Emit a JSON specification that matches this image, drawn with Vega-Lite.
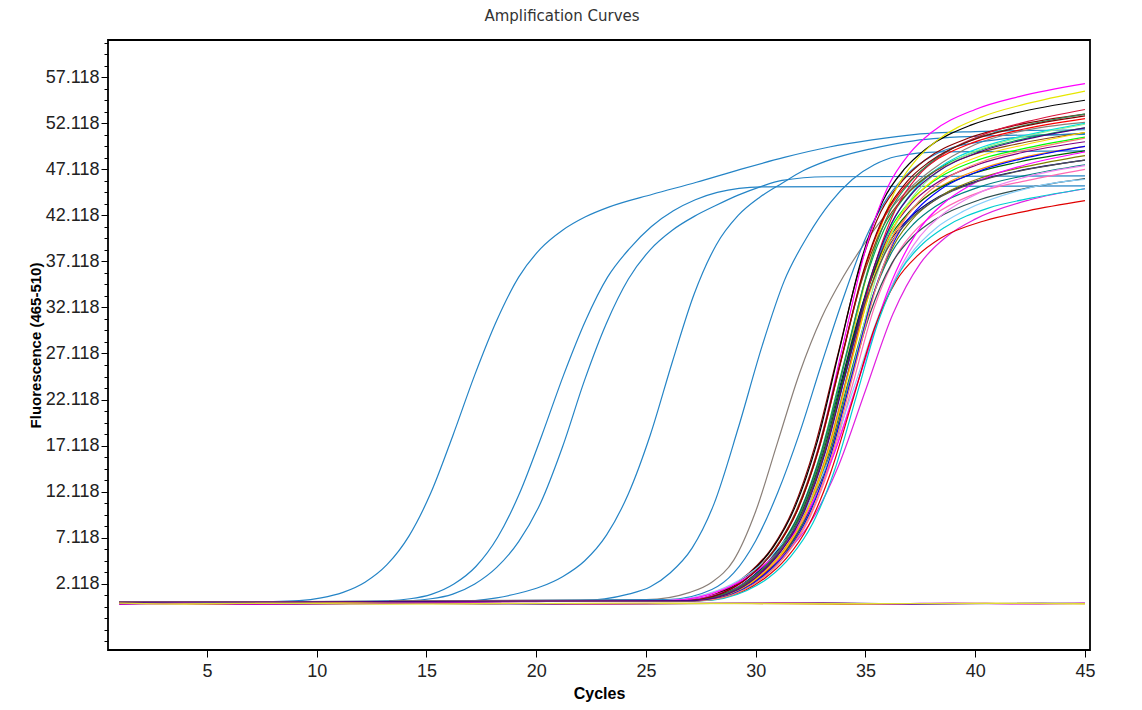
{
"$schema":"https://vega.github.io/schema/vega-lite/v6.json",
"width":982,"height":610,
"autosize":{"type":"none"},
"padding":{"left":108,"top":40,"right":52,"bottom":60},
"background":"white",
"title":{"text":"Amplification Curves","fontSize":15,"font":"DejaVu Sans","fontWeight":"normal","color":"#333333","anchor":"middle","dx":-37,"offset":16},
"config":{"view":{"stroke":"#000000","strokeWidth":1.8},"axis":{"grid":false,"domain":false,"tickColor":"#000000","tickSize":7,"labelFont":"Liberation Sans","labelFontSize":18,"labelColor":"#222222","titleFont":"Liberation Sans","titleFontWeight":"bold","titleColor":"#000000"}},
"data":{"values":[
{"s":"b1","x":1,"y":0.1},{"s":"b1","x":8,"y":0.2},{"s":"b1","x":9.2,"y":0.3},{"s":"b1","x":10.2,"y":0.6},{"s":"b1","x":11.2,"y":1.2},{"s":"b1","x":12.2,"y":2.3},{"s":"b1","x":13.2,"y":4.2},{"s":"b1","x":14.2,"y":7.3},{"s":"b1","x":15.2,"y":12.0},{"s":"b1","x":16.2,"y":18.2},{"s":"b1","x":17.2,"y":24.8},{"s":"b1","x":18.2,"y":30.7},{"s":"b1","x":19.2,"y":35.4},{"s":"b1","x":20.2,"y":38.5},{"s":"b1","x":21.2,"y":40.5},{"s":"b1","x":22.2,"y":41.9},{"s":"b1","x":23.3,"y":43.0},{"s":"b1","x":25.3,"y":44.4},{"s":"b1","x":27.3,"y":45.7},{"s":"b1","x":29.3,"y":47.1},{"s":"b1","x":31.3,"y":48.4},{"s":"b1","x":33.3,"y":49.5},{"s":"b1","x":35.3,"y":50.3},{"s":"b1","x":37.3,"y":50.9},{"s":"b1","x":40,"y":51.2},{"s":"b1","x":45,"y":51.4},
{"s":"b2","x":1,"y":0.1},{"s":"b2","x":12.25,"y":0.2},{"s":"b2","x":14.25,"y":0.5},{"s":"b2","x":15.25,"y":1.0},{"s":"b2","x":16.25,"y":2.1},{"s":"b2","x":17.25,"y":4.0},{"s":"b2","x":18.25,"y":7.2},{"s":"b2","x":19.25,"y":12.0},{"s":"b2","x":20.25,"y":18.2},{"s":"b2","x":21.25,"y":24.8},{"s":"b2","x":22.25,"y":30.7},{"s":"b2","x":23.25,"y":35.4},{"s":"b2","x":24.25,"y":38.5},{"s":"b2","x":25.25,"y":40.9},{"s":"b2","x":26.25,"y":42.6},{"s":"b2","x":27.25,"y":43.8},{"s":"b2","x":28.25,"y":44.6},{"s":"b2","x":30.25,"y":45.2},{"s":"b2","x":45,"y":45.3},
{"s":"b3","x":1,"y":0.1},{"s":"b3","x":13.2,"y":0.2},{"s":"b3","x":15.2,"y":0.5},{"s":"b3","x":16.2,"y":1.0},{"s":"b3","x":17.2,"y":2.1},{"s":"b3","x":18.2,"y":3.9},{"s":"b3","x":19.2,"y":6.7},{"s":"b3","x":20.2,"y":10.9},{"s":"b3","x":21.2,"y":17.0},{"s":"b3","x":22.2,"y":24.2},{"s":"b3","x":23.2,"y":30.4},{"s":"b3","x":24.2,"y":35.2},{"s":"b3","x":25.2,"y":38.4},{"s":"b3","x":26.2,"y":40.5},{"s":"b3","x":27.2,"y":42.0},{"s":"b3","x":28.2,"y":43.2},{"s":"b3","x":29.2,"y":44.3},{"s":"b3","x":30.2,"y":45.2},{"s":"b3","x":31.2,"y":45.9},{"s":"b3","x":33.2,"y":46.3},{"s":"b3","x":45,"y":46.4},
{"s":"b4","x":1,"y":0.1},{"s":"b4","x":16.2,"y":0.2},{"s":"b4","x":18.2,"y":0.6},{"s":"b4","x":19.2,"y":1.1},{"s":"b4","x":20.2,"y":1.8},{"s":"b4","x":21.2,"y":2.9},{"s":"b4","x":22.2,"y":4.6},{"s":"b4","x":23.2,"y":7.4},{"s":"b4","x":24.2,"y":11.9},{"s":"b4","x":25.2,"y":18.3},{"s":"b4","x":26.2,"y":26.2},{"s":"b4","x":27.2,"y":33.6},{"s":"b4","x":28.2,"y":38.9},{"s":"b4","x":29.2,"y":42.1},{"s":"b4","x":30.2,"y":44.1},{"s":"b4","x":31.2,"y":45.6},{"s":"b4","x":32.2,"y":47.0},{"s":"b4","x":33.2,"y":48.0},{"s":"b4","x":35.2,"y":49.3},{"s":"b4","x":37.2,"y":50.2},{"s":"b4","x":40.2,"y":50.7},{"s":"b4","x":45,"y":50.9},
{"s":"b5","x":1,"y":0.1},{"s":"b5","x":22,"y":0.3},{"s":"b5","x":24.2,"y":1.0},{"s":"b5","x":25.2,"y":1.8},{"s":"b5","x":26.1,"y":3.3},{"s":"b5","x":27.1,"y":6.0},{"s":"b5","x":28.1,"y":10.8},{"s":"b5","x":29.2,"y":19.0},{"s":"b5","x":30.3,"y":28.0},{"s":"b5","x":31.3,"y":35.0},{"s":"b5","x":32.4,"y":40.0},{"s":"b5","x":33.4,"y":43.5},{"s":"b5","x":34.4,"y":46.0},{"s":"b5","x":35.4,"y":47.6},{"s":"b5","x":36.4,"y":48.5},{"s":"b5","x":38.4,"y":49.0},{"s":"b5","x":45,"y":49.1},
{"s":"b6","x":1,"y":0.1},{"s":"b6","x":25,"y":0.4},{"s":"b6","x":27,"y":1.2},{"s":"b6","x":28,"y":2.3},{"s":"b6","x":29,"y":4.7},{"s":"b6","x":30,"y":10.0},{"s":"b6","x":31,"y":17.5},{"s":"b6","x":32,"y":25.0},{"s":"b6","x":33,"y":31.0},{"s":"b6","x":34,"y":35.5},{"s":"b6","x":35,"y":39.2},{"s":"b6","x":36,"y":42.4},{"s":"b6","x":37,"y":45.0},{"s":"b6","x":38,"y":47.0},{"s":"b6","x":40,"y":49.8},{"s":"b6","x":42,"y":51.2},{"s":"b6","x":45,"y":52.2},
{"s":"b7","x":1,"y":0.1},{"s":"b7","x":26,"y":0.4},{"s":"b7","x":28,"y":1.5},{"s":"b7","x":29,"y":3.3},{"s":"b7","x":30,"y":6.8},{"s":"b7","x":31,"y":12.0},{"s":"b7","x":32,"y":18.5},{"s":"b7","x":33,"y":26.0},{"s":"b7","x":34,"y":33.2},{"s":"b7","x":35,"y":39.6},{"s":"b7","x":36,"y":44.0},{"s":"b7","x":37,"y":46.8},{"s":"b7","x":38,"y":48.5},{"s":"b7","x":40,"y":50.0},{"s":"b7","x":45,"y":51.0},
{"s":"c01","x":1,"y":0.1},{"s":"c01","x":26.7,"y":0.3},{"s":"c01","x":28.7,"y":1.6},{"s":"c01","x":29.7,"y":3.3},{"s":"c01","x":30.7,"y":5.9},{"s":"c01","x":31.7,"y":10.2},{"s":"c01","x":32.7,"y":17.1},{"s":"c01","x":33.7,"y":26.6},{"s":"c01","x":34.7,"y":36.1},{"s":"c01","x":35.7,"y":42.5},{"s":"c01","x":36.7,"y":45.9},{"s":"c01","x":37.7,"y":48.1},{"s":"c01","x":39.7,"y":50.5},{"s":"c01","x":41.7,"y":51.8},{"s":"c01","x":45,"y":53.1},
{"s":"c02","x":1,"y":0.1},{"s":"c02","x":26.8,"y":0.3},{"s":"c02","x":28.8,"y":1.6},{"s":"c02","x":29.8,"y":3.4},{"s":"c02","x":30.8,"y":6.1},{"s":"c02","x":31.8,"y":10.5},{"s":"c02","x":32.8,"y":17.5},{"s":"c02","x":33.8,"y":27.4},{"s":"c02","x":34.8,"y":37.2},{"s":"c02","x":35.8,"y":43.7},{"s":"c02","x":36.8,"y":47.2},{"s":"c02","x":37.8,"y":49.4},{"s":"c02","x":39.8,"y":51.9},{"s":"c02","x":41.8,"y":53.2},{"s":"c02","x":45,"y":54.6},
{"s":"c03","x":1,"y":0.1},{"s":"c03","x":27,"y":0.3},{"s":"c03","x":29,"y":1.7},{"s":"c03","x":30,"y":3.5},{"s":"c03","x":31,"y":6.3},{"s":"c03","x":32,"y":10.8},{"s":"c03","x":33,"y":18.1},{"s":"c03","x":34,"y":28.3},{"s":"c03","x":35,"y":38.4},{"s":"c03","x":36,"y":45.1},{"s":"c03","x":37,"y":48.8},{"s":"c03","x":38,"y":51.1},{"s":"c03","x":40,"y":53.6},{"s":"c03","x":42,"y":55.0},{"s":"c03","x":45,"y":56.4},
{"s":"c04","x":1,"y":0.1},{"s":"c04","x":27.3,"y":0.3},{"s":"c04","x":29.3,"y":1.7},{"s":"c04","x":30.3,"y":3.4},{"s":"c04","x":31.3,"y":6.2},{"s":"c04","x":32.3,"y":10.6},{"s":"c04","x":33.3,"y":17.9},{"s":"c04","x":34.3,"y":27.9},{"s":"c04","x":35.3,"y":37.8},{"s":"c04","x":36.3,"y":44.5},{"s":"c04","x":37.3,"y":48.1},{"s":"c04","x":38.3,"y":50.3},{"s":"c04","x":40.3,"y":52.8},{"s":"c04","x":42.3,"y":54.2},{"s":"c04","x":45,"y":55.6},
{"s":"c05","x":1,"y":0.1},{"s":"c05","x":26.9,"y":0.3},{"s":"c05","x":28.9,"y":1.6},{"s":"c05","x":29.9,"y":3.3},{"s":"c05","x":30.9,"y":5.9},{"s":"c05","x":31.9,"y":10.1},{"s":"c05","x":32.9,"y":16.9},{"s":"c05","x":33.9,"y":26.4},{"s":"c05","x":34.9,"y":35.8},{"s":"c05","x":35.9,"y":42.1},{"s":"c05","x":36.9,"y":45.5},{"s":"c05","x":37.9,"y":47.6},{"s":"c05","x":39.9,"y":50.0},{"s":"c05","x":41.9,"y":51.3},{"s":"c05","x":45,"y":52.6},
{"s":"c06","x":1,"y":0.1},{"s":"c06","x":27,"y":0.3},{"s":"c06","x":29,"y":1.5},{"s":"c06","x":30,"y":3.2},{"s":"c06","x":31,"y":5.8},{"s":"c06","x":32,"y":9.9},{"s":"c06","x":33,"y":16.6},{"s":"c06","x":34,"y":25.9},{"s":"c06","x":35,"y":35.1},{"s":"c06","x":36,"y":41.3},{"s":"c06","x":37,"y":44.7},{"s":"c06","x":38,"y":46.7},{"s":"c06","x":40,"y":49.0},{"s":"c06","x":42,"y":50.3},{"s":"c06","x":45,"y":51.6},
{"s":"c07","x":1,"y":0.1},{"s":"c07","x":27.1,"y":0.3},{"s":"c07","x":29.1,"y":1.5},{"s":"c07","x":30.1,"y":3.1},{"s":"c07","x":31.1,"y":5.7},{"s":"c07","x":32.1,"y":9.7},{"s":"c07","x":33.1,"y":16.3},{"s":"c07","x":34.1,"y":25.4},{"s":"c07","x":35.1,"y":34.4},{"s":"c07","x":36.1,"y":40.5},{"s":"c07","x":37.1,"y":43.8},{"s":"c07","x":38.1,"y":45.8},{"s":"c07","x":40.1,"y":48.1},{"s":"c07","x":42.1,"y":49.3},{"s":"c07","x":45,"y":50.6},
{"s":"c08","x":1,"y":0.1},{"s":"c08","x":26.9,"y":0.3},{"s":"c08","x":28.9,"y":1.4},{"s":"c08","x":29.9,"y":3.0},{"s":"c08","x":30.9,"y":5.4},{"s":"c08","x":31.9,"y":9.2},{"s":"c08","x":32.9,"y":15.5},{"s":"c08","x":33.9,"y":24.1},{"s":"c08","x":34.9,"y":32.7},{"s":"c08","x":35.9,"y":38.5},{"s":"c08","x":36.9,"y":41.6},{"s":"c08","x":37.9,"y":43.5},{"s":"c08","x":39.9,"y":45.7},{"s":"c08","x":41.9,"y":46.9},{"s":"c08","x":45,"y":48.1},
{"s":"c09","x":1,"y":0.1},{"s":"c09","x":27.3,"y":0.3},{"s":"c09","x":29.3,"y":1.6},{"s":"c09","x":30.3,"y":3.2},{"s":"c09","x":31.3,"y":5.8},{"s":"c09","x":32.3,"y":10.0},{"s":"c09","x":33.3,"y":16.7},{"s":"c09","x":34.3,"y":26.1},{"s":"c09","x":35.3,"y":35.5},{"s":"c09","x":36.3,"y":41.7},{"s":"c09","x":37.3,"y":45.1},{"s":"c09","x":38.3,"y":47.2},{"s":"c09","x":40.3,"y":49.5},{"s":"c09","x":42.3,"y":50.8},{"s":"c09","x":45,"y":52.1},
{"s":"c10","x":1,"y":0.1},{"s":"c10","x":27.2,"y":0.3},{"s":"c10","x":29.2,"y":1.4},{"s":"c10","x":30.2,"y":3.0},{"s":"c10","x":31.2,"y":5.3},{"s":"c10","x":32.2,"y":9.1},{"s":"c10","x":33.2,"y":15.3},{"s":"c10","x":34.2,"y":23.9},{"s":"c10","x":35.2,"y":32.4},{"s":"c10","x":36.2,"y":38.1},{"s":"c10","x":37.2,"y":41.2},{"s":"c10","x":38.2,"y":43.1},{"s":"c10","x":40.2,"y":45.2},{"s":"c10","x":42.2,"y":46.4},{"s":"c10","x":45,"y":47.6},
{"s":"c11","x":1,"y":0.1},{"s":"c11","x":27.2,"y":0.3},{"s":"c11","x":29.2,"y":1.5},{"s":"c11","x":30.2,"y":3.1},{"s":"c11","x":31.2,"y":5.5},{"s":"c11","x":32.2,"y":9.5},{"s":"c11","x":33.2,"y":15.9},{"s":"c11","x":34.2,"y":24.9},{"s":"c11","x":35.2,"y":33.8},{"s":"c11","x":36.2,"y":39.7},{"s":"c11","x":37.2,"y":42.9},{"s":"c11","x":38.2,"y":44.9},{"s":"c11","x":40.2,"y":47.1},{"s":"c11","x":42.2,"y":48.4},{"s":"c11","x":45,"y":49.6},
{"s":"c12","x":1,"y":0.1},{"s":"c12","x":27.1,"y":0.3},{"s":"c12","x":29.1,"y":1.5},{"s":"c12","x":30.1,"y":3.1},{"s":"c12","x":31.1,"y":5.6},{"s":"c12","x":32.1,"y":9.6},{"s":"c12","x":33.1,"y":16.1},{"s":"c12","x":34.1,"y":25.1},{"s":"c12","x":35.1,"y":34.1},{"s":"c12","x":36.1,"y":40.1},{"s":"c12","x":37.1,"y":43.4},{"s":"c12","x":38.1,"y":45.4},{"s":"c12","x":40.1,"y":47.6},{"s":"c12","x":42.1,"y":48.9},{"s":"c12","x":45,"y":50.1},
{"s":"c13","x":1,"y":0.1},{"s":"c13","x":26.8,"y":0.3},{"s":"c13","x":28.8,"y":1.5},{"s":"c13","x":29.8,"y":3.2},{"s":"c13","x":30.8,"y":5.7},{"s":"c13","x":31.8,"y":9.8},{"s":"c13","x":32.8,"y":16.4},{"s":"c13","x":33.8,"y":25.6},{"s":"c13","x":34.8,"y":34.8},{"s":"c13","x":35.8,"y":40.9},{"s":"c13","x":36.8,"y":44.2},{"s":"c13","x":37.8,"y":46.3},{"s":"c13","x":39.8,"y":48.6},{"s":"c13","x":41.8,"y":49.8},{"s":"c13","x":45,"y":51.1},
{"s":"c14","x":1,"y":0.1},{"s":"c14","x":27.3,"y":0.3},{"s":"c14","x":29.3,"y":1.5},{"s":"c14","x":30.3,"y":3.0},{"s":"c14","x":31.3,"y":5.4},{"s":"c14","x":32.3,"y":9.3},{"s":"c14","x":33.3,"y":15.6},{"s":"c14","x":34.3,"y":24.4},{"s":"c14","x":35.3,"y":33.1},{"s":"c14","x":36.3,"y":38.9},{"s":"c14","x":37.3,"y":42.1},{"s":"c14","x":38.3,"y":44.0},{"s":"c14","x":40.3,"y":46.2},{"s":"c14","x":42.3,"y":47.4},{"s":"c14","x":45,"y":48.6},
{"s":"c15","x":1,"y":0.1},{"s":"c15","x":27.4,"y":0.3},{"s":"c15","x":29.4,"y":1.4},{"s":"c15","x":30.4,"y":2.9},{"s":"c15","x":31.4,"y":5.3},{"s":"c15","x":32.4,"y":9.0},{"s":"c15","x":33.4,"y":15.1},{"s":"c15","x":34.4,"y":23.6},{"s":"c15","x":35.4,"y":32.1},{"s":"c15","x":36.4,"y":37.7},{"s":"c15","x":37.4,"y":40.8},{"s":"c15","x":38.4,"y":42.6},{"s":"c15","x":40.4,"y":44.8},{"s":"c15","x":42.4,"y":45.9},{"s":"c15","x":45,"y":47.1},
{"s":"c16","x":1,"y":0.1},{"s":"c16","x":27,"y":0.3},{"s":"c16","x":29,"y":1.5},{"s":"c16","x":30,"y":3.0},{"s":"c16","x":31,"y":5.5},{"s":"c16","x":32,"y":9.4},{"s":"c16","x":33,"y":15.8},{"s":"c16","x":34,"y":24.6},{"s":"c16","x":35,"y":33.4},{"s":"c16","x":36,"y":39.3},{"s":"c16","x":37,"y":42.5},{"s":"c16","x":38,"y":44.5},{"s":"c16","x":40,"y":46.7},{"s":"c16","x":42,"y":47.9},{"s":"c16","x":45,"y":49.1},
{"s":"c17","x":1,"y":0.1},{"s":"c17","x":27.2,"y":0.3},{"s":"c17","x":29.2,"y":1.4},{"s":"c17","x":30.2,"y":2.9},{"s":"c17","x":31.2,"y":5.2},{"s":"c17","x":32.2,"y":8.8},{"s":"c17","x":33.2,"y":14.8},{"s":"c17","x":34.2,"y":23.1},{"s":"c17","x":35.2,"y":31.4},{"s":"c17","x":36.2,"y":36.9},{"s":"c17","x":37.2,"y":39.9},{"s":"c17","x":38.2,"y":41.7},{"s":"c17","x":40.2,"y":43.8},{"s":"c17","x":42.2,"y":45.0},{"s":"c17","x":45,"y":46.1},
{"s":"c18","x":1,"y":0.1},{"s":"c18","x":25.75,"y":0.3},{"s":"c18","x":28.25,"y":1.4},{"s":"c18","x":29.5,"y":2.9},{"s":"c18","x":30.75,"y":5.3},{"s":"c18","x":32,"y":9.0},{"s":"c18","x":33.25,"y":15.1},{"s":"c18","x":34.5,"y":23.6},{"s":"c18","x":35.75,"y":32.1},{"s":"c18","x":37,"y":37.7},{"s":"c18","x":38.25,"y":40.8},{"s":"c18","x":39.5,"y":42.6},{"s":"c18","x":42,"y":44.8},{"s":"c18","x":44.5,"y":45.9},{"s":"c18","x":45,"y":46.0},
{"s":"c19","x":1,"y":0.1},{"s":"c19","x":27.4,"y":0.3},{"s":"c19","x":29.4,"y":1.6},{"s":"c19","x":30.4,"y":3.3},{"s":"c19","x":31.4,"y":6.0},{"s":"c19","x":32.4,"y":10.3},{"s":"c19","x":33.4,"y":17.2},{"s":"c19","x":34.4,"y":26.9},{"s":"c19","x":35.4,"y":36.5},{"s":"c19","x":36.4,"y":42.9},{"s":"c19","x":37.4,"y":46.4},{"s":"c19","x":38.4,"y":48.5},{"s":"c19","x":40.4,"y":50.9},{"s":"c19","x":42.4,"y":52.3},{"s":"c19","x":45,"y":53.6},
{"s":"c20","x":1,"y":0.1},{"s":"c20","x":25.95,"y":0.3},{"s":"c20","x":28.45,"y":1.5},{"s":"c20","x":29.7,"y":3.0},{"s":"c20","x":30.95,"y":5.4},{"s":"c20","x":32.2,"y":9.3},{"s":"c20","x":33.45,"y":15.6},{"s":"c20","x":34.7,"y":24.4},{"s":"c20","x":35.95,"y":33.1},{"s":"c20","x":37.2,"y":38.9},{"s":"c20","x":38.45,"y":42.1},{"s":"c20","x":39.7,"y":44.0},{"s":"c20","x":42.2,"y":46.2},{"s":"c20","x":44.7,"y":47.4},{"s":"c20","x":45,"y":47.5},
{"s":"c21","x":1,"y":0.1},{"s":"c21","x":26.05,"y":0.3},{"s":"c21","x":28.55,"y":1.5},{"s":"c21","x":29.8,"y":3.1},{"s":"c21","x":31.05,"y":5.6},{"s":"c21","x":32.3,"y":9.6},{"s":"c21","x":33.55,"y":16.1},{"s":"c21","x":34.8,"y":25.1},{"s":"c21","x":36.05,"y":34.1},{"s":"c21","x":37.3,"y":40.1},{"s":"c21","x":38.55,"y":43.4},{"s":"c21","x":39.8,"y":45.4},{"s":"c21","x":42.3,"y":47.6},{"s":"c21","x":44.8,"y":48.9},{"s":"c21","x":45,"y":49.0},
{"s":"c22","x":1,"y":0.1},{"s":"c22","x":26.25,"y":0.3},{"s":"c22","x":28.75,"y":1.4},{"s":"c22","x":30,"y":2.9},{"s":"c22","x":31.25,"y":5.2},{"s":"c22","x":32.5,"y":8.8},{"s":"c22","x":33.75,"y":14.8},{"s":"c22","x":35,"y":23.1},{"s":"c22","x":36.25,"y":31.4},{"s":"c22","x":37.5,"y":36.9},{"s":"c22","x":38.75,"y":39.9},{"s":"c22","x":40,"y":41.7},{"s":"c22","x":42.5,"y":43.8},{"s":"c22","x":45,"y":45.0},
{"s":"c23","x":1,"y":0.1},{"s":"c23","x":27.5,"y":0.3},{"s":"c23","x":29.5,"y":1.6},{"s":"c23","x":30.5,"y":3.2},{"s":"c23","x":31.5,"y":5.8},{"s":"c23","x":32.5,"y":10.0},{"s":"c23","x":33.5,"y":16.7},{"s":"c23","x":34.5,"y":26.1},{"s":"c23","x":35.5,"y":35.5},{"s":"c23","x":36.5,"y":41.7},{"s":"c23","x":37.5,"y":45.1},{"s":"c23","x":38.5,"y":47.2},{"s":"c23","x":40.5,"y":49.5},{"s":"c23","x":42.5,"y":50.8},{"s":"c23","x":45,"y":52.0},
{"s":"c24","x":1,"y":0.1},{"s":"c24","x":27.3,"y":0.3},{"s":"c24","x":29.3,"y":1.5},{"s":"c24","x":30.3,"y":3.2},{"s":"c24","x":31.3,"y":5.7},{"s":"c24","x":32.3,"y":9.8},{"s":"c24","x":33.3,"y":16.4},{"s":"c24","x":34.3,"y":25.6},{"s":"c24","x":35.3,"y":34.8},{"s":"c24","x":36.3,"y":40.9},{"s":"c24","x":37.3,"y":44.2},{"s":"c24","x":38.3,"y":46.3},{"s":"c24","x":40.3,"y":48.6},{"s":"c24","x":42.3,"y":49.8},{"s":"c24","x":45,"y":51.1},
{"s":"c25","x":1,"y":0.1},{"s":"c25","x":27.1,"y":0.3},{"s":"c25","x":29.1,"y":1.6},{"s":"c25","x":30.1,"y":3.3},{"s":"c25","x":31.1,"y":5.9},{"s":"c25","x":32.1,"y":10.2},{"s":"c25","x":33.1,"y":17.1},{"s":"c25","x":34.1,"y":26.6},{"s":"c25","x":35.1,"y":36.1},{"s":"c25","x":36.1,"y":42.5},{"s":"c25","x":37.1,"y":45.9},{"s":"c25","x":38.1,"y":48.1},{"s":"c25","x":40.1,"y":50.5},{"s":"c25","x":42.1,"y":51.8},{"s":"c25","x":45,"y":53.1},
{"s":"c26","x":1,"y":0.1},{"s":"c26","x":26.9,"y":0.3},{"s":"c26","x":28.9,"y":1.6},{"s":"c26","x":29.9,"y":3.3},{"s":"c26","x":30.9,"y":5.9},{"s":"c26","x":31.9,"y":10.1},{"s":"c26","x":32.9,"y":17.0},{"s":"c26","x":33.9,"y":26.5},{"s":"c26","x":34.9,"y":36.0},{"s":"c26","x":35.9,"y":42.3},{"s":"c26","x":36.9,"y":45.8},{"s":"c26","x":37.9,"y":47.9},{"s":"c26","x":39.9,"y":50.3},{"s":"c26","x":41.9,"y":51.6},{"s":"c26","x":45,"y":52.9},
{"s":"c27","x":1,"y":0.1},{"s":"c27","x":27.4,"y":0.3},{"s":"c27","x":29.4,"y":1.5},{"s":"c27","x":30.4,"y":3.1},{"s":"c27","x":31.4,"y":5.5},{"s":"c27","x":32.4,"y":9.5},{"s":"c27","x":33.4,"y":15.9},{"s":"c27","x":34.4,"y":24.9},{"s":"c27","x":35.4,"y":33.8},{"s":"c27","x":36.4,"y":39.7},{"s":"c27","x":37.4,"y":42.9},{"s":"c27","x":38.4,"y":44.9},{"s":"c27","x":40.4,"y":47.1},{"s":"c27","x":42.4,"y":48.4},{"s":"c27","x":45,"y":49.6},
{"s":"c28","x":1,"y":0.1},{"s":"c28","x":27.4,"y":0.3},{"s":"c28","x":29.4,"y":1.3},{"s":"c28","x":30.4,"y":2.7},{"s":"c28","x":31.4,"y":4.9},{"s":"c28","x":32.4,"y":8.4},{"s":"c28","x":33.4,"y":14.1},{"s":"c28","x":34.4,"y":21.9},{"s":"c28","x":35.4,"y":29.8},{"s":"c28","x":36.4,"y":35.0},{"s":"c28","x":37.4,"y":37.8},{"s":"c28","x":38.4,"y":39.6},{"s":"c28","x":40.4,"y":41.5},{"s":"c28","x":42.4,"y":42.6},{"s":"c28","x":45,"y":43.7},
{"s":"c29","x":1,"y":0.1},{"s":"c29","x":27.6,"y":0.3},{"s":"c29","x":29.6,"y":1.4},{"s":"c29","x":30.6,"y":2.8},{"s":"c29","x":31.6,"y":5.1},{"s":"c29","x":32.6,"y":8.7},{"s":"c29","x":33.6,"y":14.5},{"s":"c29","x":34.6,"y":22.6},{"s":"c29","x":35.6,"y":30.7},{"s":"c29","x":36.6,"y":36.1},{"s":"c29","x":37.6,"y":39.0},{"s":"c29","x":38.6,"y":40.8},{"s":"c29","x":40.6,"y":42.9},{"s":"c29","x":42.6,"y":44.0},{"s":"c29","x":45,"y":45.0},
{"s":"c30","x":1,"y":0.1},{"s":"c30","x":27,"y":0.3},{"s":"c30","x":29,"y":1.4},{"s":"c30","x":30,"y":3.0},{"s":"c30","x":31,"y":5.4},{"s":"c30","x":32,"y":9.2},{"s":"c30","x":33,"y":15.5},{"s":"c30","x":34,"y":24.1},{"s":"c30","x":35,"y":32.7},{"s":"c30","x":36,"y":38.5},{"s":"c30","x":37,"y":41.6},{"s":"c30","x":38,"y":43.5},{"s":"c30","x":40,"y":45.7},{"s":"c30","x":42,"y":46.9},{"s":"c30","x":45,"y":48.1},
{"s":"c31","x":1,"y":0.1},{"s":"c31","x":27.5,"y":0.3},{"s":"c31","x":29.5,"y":1.5},{"s":"c31","x":30.5,"y":3.1},{"s":"c31","x":31.5,"y":5.7},{"s":"c31","x":32.5,"y":9.7},{"s":"c31","x":33.5,"y":16.3},{"s":"c31","x":34.5,"y":25.4},{"s":"c31","x":35.5,"y":34.4},{"s":"c31","x":36.5,"y":40.5},{"s":"c31","x":37.5,"y":43.8},{"s":"c31","x":38.5,"y":45.8},{"s":"c31","x":40.5,"y":48.1},{"s":"c31","x":42.5,"y":49.3},{"s":"c31","x":45,"y":50.5},
{"s":"c32","x":1,"y":0.1},{"s":"c32","x":27.2,"y":0.3},{"s":"c32","x":29.2,"y":1.5},{"s":"c32","x":30.2,"y":3.2},{"s":"c32","x":31.2,"y":5.8},{"s":"c32","x":32.2,"y":9.9},{"s":"c32","x":33.2,"y":16.6},{"s":"c32","x":34.2,"y":25.9},{"s":"c32","x":35.2,"y":35.1},{"s":"c32","x":36.2,"y":41.3},{"s":"c32","x":37.2,"y":44.7},{"s":"c32","x":38.2,"y":46.7},{"s":"c32","x":40.2,"y":49.0},{"s":"c32","x":42.2,"y":50.3},{"s":"c32","x":45,"y":51.6},
{"s":"z1","x":1,"y":0.0},{"s":"z1","x":6,"y":-0.1},{"s":"z1","x":11,"y":0.05},{"s":"z1","x":18,"y":-0.05},{"s":"z1","x":26,"y":0.02},{"s":"z1","x":34,"y":-0.1},{"s":"z1","x":41,"y":0.0},{"s":"z1","x":45,"y":-0.05},
{"s":"z2","x":1,"y":-0.05},{"s":"z2","x":5,"y":0.05},{"s":"z2","x":9,"y":-0.1},{"s":"z2","x":14,"y":0.02},{"s":"z2","x":21,"y":-0.1},{"s":"z2","x":28,"y":0.0},{"s":"z2","x":33,"y":0.08},{"s":"z2","x":37,"y":-0.1},{"s":"z2","x":43,"y":0.02},{"s":"z2","x":45,"y":0.0},
{"s":"z3","x":1,"y":-0.1},{"s":"z3","x":4,"y":0.0},{"s":"z3","x":7,"y":-0.12},{"s":"z3","x":12,"y":-0.02},{"s":"z3","x":17,"y":0.06},{"s":"z3","x":23,"y":-0.08},{"s":"z3","x":31,"y":0.05},{"s":"z3","x":36,"y":-0.05},{"s":"z3","x":39,"y":0.04},{"s":"z3","x":42,"y":-0.06},{"s":"z3","x":45,"y":0.02},
{"s":"z4","x":1,"y":0.02},{"s":"z4","x":3,"y":-0.05},{"s":"z4","x":8,"y":0.0},{"s":"z4","x":13,"y":-0.08},{"s":"z4","x":19,"y":0.0},{"s":"z4","x":25,"y":-0.04},{"s":"z4","x":30,"y":0.0},{"s":"z4","x":35,"y":-0.02},{"s":"z4","x":40,"y":0.0},{"s":"z4","x":45,"y":-0.02}
]},
"encoding":{
"x":{"field":"x","type":"quantitative","scale":{"domain":[0.49,45.23],"nice":false,"zero":false},"axis":{"values":[5,10,15,20,25,30,35,40,45],"title":"Cycles","titleFontSize":16,"titlePadding":5,"labelPadding":5}}
},
"layer":[
{
"mark":{"type":"line","interpolate":"monotone","strokeWidth":1.2,"clip":true},
"encoding":{
"y":{"field":"y","type":"quantitative","scale":{"domain":[-5.06,61.14],"nice":false,"zero":false},"axis":{"orient":"left","values":[2.118,7.118,12.118,17.118,22.118,27.118,32.118,37.118,42.118,47.118,52.118,57.118],"format":".3f","title":"Fluorescence (465-510)","titleFontSize":15,"titlePadding":2,"labelPadding":2}},
"color":{"field":"s","type":"nominal","legend":null,"sort":null,"scale":{
"domain":["b1","b2","b3","b4","b5","b6","b7","c01","c02","c03","c04","c05","c06","c07","c08","c09","c10","c11","c12","c13","c14","c15","c16","c17","c18","c19","c20","c21","c22","c23","c24","c25","c26","c27","c28","c29","c30","c31","c32","z1","z2","z3","z4"],
"range":["#2484c6","#2484c6","#2484c6","#2484c6","#2484c6","#8a7f78","#2484c6","#8b0000","#000000","#ff00ff","#e6e600","#ff0000","#00b050","#00ff00","#000080","#00e0e0","#008080","#ff8c00","#800080","#8b4513","#808000","#ff69b4","#006400","#2f4f4f","#87cefa","#dc143c","#ee82ee","#ff00ff","#e020e0","#90ee90","#ffd700","#2e8b57","#800000","#0000ff","#e00000","#00ced1","#505050","#fa8072","#4b0082","#e0a030","#7040a0","#c000c0","#dede30"]}}
}
},
{
"transform":[{"filter":"datum.s == 'z4'"}],
"mark":{"type":"line","opacity":0},
"encoding":{
"y":{"field":"y","type":"quantitative","axis":{"orient":"left","values":[-4.132,-2.882,-1.632,-0.382,0.868,3.368,4.618,5.868,8.368,9.618,10.868,13.368,14.618,15.868,18.368,19.618,20.868,23.368,24.618,25.868,28.368,29.618,30.868,33.368,34.618,35.868,38.368,39.618,40.868,43.368,44.618,45.868,48.368,49.618,50.868,53.368,54.618,55.868,58.368,59.618,60.868],"labels":false,"title":null,"tickSize":4,"domain":false}}
}
}
],
"resolve":{"axis":{"y":"independent"}}
}
